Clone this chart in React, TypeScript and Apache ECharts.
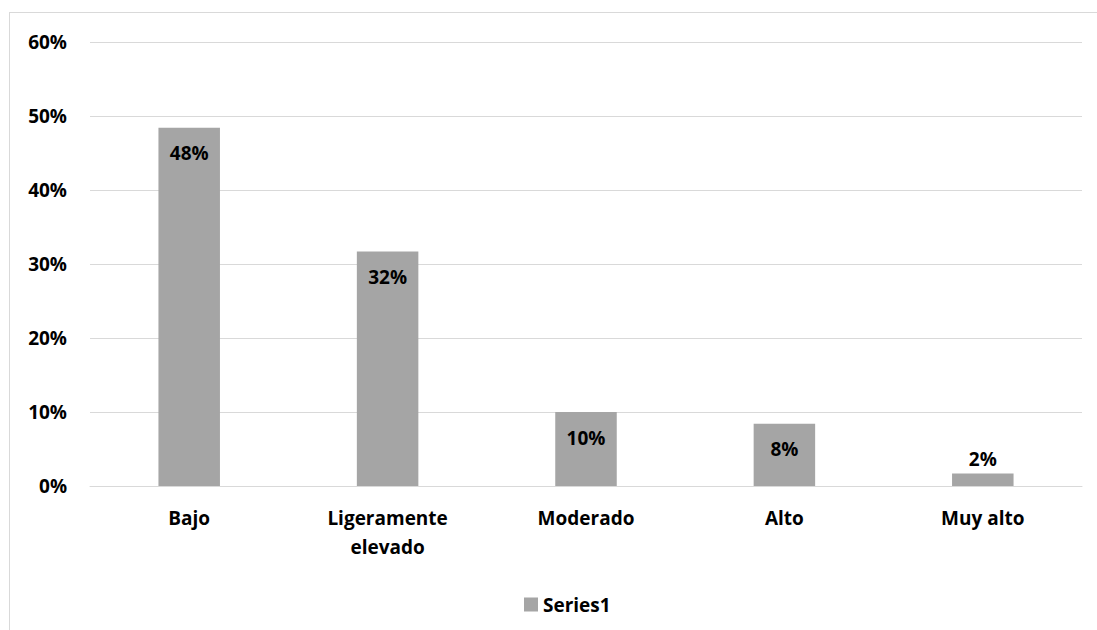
import React, { useEffect, useRef } from "react";
import * as echarts from "echarts";

const categories = ["Bajo", "Ligeramente\nelevado", "Moderado", "Alto", "Muy alto"];
const values = [0.484, 0.317, 0.1, 0.084, 0.017];
const labelPositions = ["insideTop", "insideTop", "insideTop", "insideTop", "top"];
const seriesName = "Series1";

const FONT = "'Open Sans', 'Noto Sans', sans-serif";
const FS = 19;

export default function App() {
  const ref = useRef<HTMLDivElement>(null);
  useEffect(() => {
    if (!ref.current) return;
    const chart = echarts.init(ref.current, undefined, { renderer: "svg" });
    chart.setOption({
      animation: false,
      backgroundColor: "#ffffff",
      textStyle: { fontFamily: FONT },
      graphic: [
        { type: "line", shape: { x1: 9, y1: 12.5, x2: 1200, y2: 12.5 }, style: { stroke: "#d9d9d9", lineWidth: 1 } },
        { type: "line", shape: { x1: 9.5, y1: 12, x2: 9.5, y2: 1200 }, style: { stroke: "#d9d9d9", lineWidth: 1 } },
      ],
      grid: { left: 90, right: 15, top: 42, bottom: 144 },
      legend: {
        data: [seriesName],
        left: 519,
        top: 590,
        itemWidth: 14,
        itemHeight: 14,
        itemGap: 5,
        icon: "rect",
        textStyle: { fontFamily: FONT, fontWeight: "bold", fontSize: FS, color: "#000" },
      },
      xAxis: {
        type: "category",
        data: categories,
        axisLine: { show: true, lineStyle: { color: "#d9d9d9", width: 1 } },
        axisTick: { show: false },
        axisLabel: {
          fontFamily: FONT,
          fontWeight: "bold",
          fontSize: FS,
          color: "#000",
          margin: 17,
          lineHeight: 29,
        },
      },
      yAxis: {
        type: "value",
        min: 0,
        max: 0.6,
        interval: 0.1,
        axisLine: { show: false },
        axisTick: { show: false },
        splitLine: { lineStyle: { color: "#d9d9d9", width: 1 } },
        axisLabel: {
          fontFamily: FONT,
          fontWeight: "bold",
          fontSize: FS,
          color: "#000",
          margin: 23,
          formatter: (v: number) => Math.round(v * 100) + "%",
        },
      },
      series: [
        {
          name: seriesName,
          type: "bar",
          barWidth: "31%",
          itemStyle: { color: "#a5a5a5" },
          data: values.map((v, i) => ({
            value: v,
            label: { position: labelPositions[i], distance: labelPositions[i] === "top" ? 5 : 16 },
          })),
          label: {
            show: true,
            fontFamily: FONT,
            fontWeight: "bold",
            fontSize: FS,
            color: "#000",
            formatter: (p: any) => Math.round(p.value * 100) + "%",
          },
        },
      ],
    });
    return () => chart.dispose();
  }, []);
  return (
    <div
      ref={ref}
      style={{ position: "fixed", left: 0, top: 0, width: 1097, height: 630 }}
    />
  );
}
